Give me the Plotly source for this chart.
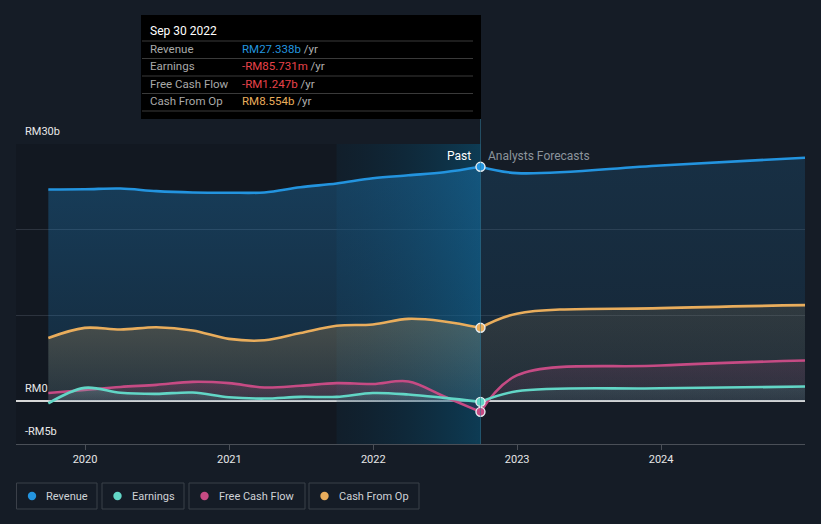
import plotly.graph_objects as go
from datetime import datetime

# ---------------- data ----------------
past_dates = ["2019-09-30", "2019-12-31", "2020-03-31", "2020-06-30", "2020-09-30",
              "2020-12-31", "2021-03-31", "2021-06-30", "2021-09-30", "2021-12-31",
              "2022-03-31", "2022-06-30", "2022-09-30"]
forecast_dates = ["2022-12-31", "2023-12-31", "2024-12-31"]

revenue_past = [24.70, 24.72, 24.80, 24.50, 24.35, 24.32, 24.35, 24.95, 25.40, 26.00, 26.35, 26.70, 27.338]
earnings_past = [-0.25, 1.55, 0.98, 0.85, 1.00, 0.45, 0.30, 0.50, 0.50, 0.95, 0.78, 0.38, -0.085731]
fcf_past = [0.95, 1.30, 1.65, 1.90, 2.25, 2.10, 1.60, 1.80, 2.10, 2.00, 2.30, 0.55, -1.247]
cfo_past = [7.37, 8.55, 8.35, 8.62, 8.25, 7.26, 7.10, 7.95, 8.80, 8.95, 9.60, 9.30, 8.554]

revenue_fc = [26.6, 27.5, 28.4]
earnings_fc = [1.15, 1.5, 1.7]
fcf_fc = [3.0, 4.15, 4.75]
cfo_fc = [10.2, 10.85, 11.2]

series_names = ["Revenue", "Earnings", "Free Cash Flow", "Cash From Op"]
series_colors = ["#2394df", "#62d6c6", "#c64b84", "#e9ad5c"]

y_tickvals = [-5, 0, 10, 20, 30]
y_ticktext = ["-RM5b", "RM0", "", "", "RM30b"]
y_range = [-5, 30]
x_range = ["2019-07-10", "2024-12-31"]

BG = "#151c26"
FONT = "Roboto"

# ---------------- layout helpers ----------------
W, H = 821, 524
ML, MR, MT, MB = 16, 16, 144, 80
PW, PH = W - ML - MR, H - MT - MB


def px(x):
    return (x - ML) / PW


def py(y):
    return (MT + PH - y) / PH


def rgba(hexc, a):
    h = hexc.lstrip("#")
    r, g, b = int(h[0:2], 16), int(h[2:4], 16), int(h[4:6], 16)
    return f"rgba({r},{g},{b},{a})"


fig = go.Figure()

last = datetime.strptime(past_dates[-1], "%Y-%m-%d")
band_start = last.replace(year=last.year - 1).strftime("%Y-%m-%d")

# highlight band for the last twelve months (horizontal gradient)
fig.add_trace(go.Scatter(
    x=[band_start, past_dates[-1], past_dates[-1], band_start, band_start],
    y=[y_range[0], y_range[0], y_range[1], y_range[1], y_range[0]],
    mode="none", fill="toself",
    fillgradient=dict(type="horizontal", colorscale=[[0, "rgba(2,40,62,0.20)"], [1, "rgba(6,88,126,0.52)"]]),
    hoverinfo="skip", showlegend=False))

past_sets = [revenue_past, earnings_past, fcf_past, cfo_past]
fc_sets = [revenue_fc, earnings_fc, fcf_fc, cfo_fc]
past_alpha = {"Revenue": (0.14, 0.30), "Earnings": (0.10, 0.22),
              "Free Cash Flow": (0.10, 0.22), "Cash From Op": (0.08, 0.24)}
fc_alpha = {"Revenue": (0.09, 0.16), "Earnings": (0.06, 0.12),
            "Free Cash Flow": (0.06, 0.14), "Cash From Op": (0.05, 0.12)}

# draw order: revenue, cash from op, free cash flow, earnings
order = [0, 3, 2, 1]
for i in order:
    name, col = series_names[i], series_colors[i]
    pv, fv = past_sets[i], fc_sets[i]
    a0, a1 = past_alpha[name]
    fig.add_trace(go.Scatter(
        x=past_dates, y=pv, mode="lines", name=name,
        line=dict(color=col, width=2.6, shape="spline", smoothing=1),
        fill="tozeroy",
        fillgradient=dict(type="vertical", start=0, stop=max(pv),
                          colorscale=[[0, rgba(col, a0)], [1, rgba(col, a1)]]),
        hoverinfo="skip", showlegend=False))
    fx = [past_dates[-1]] + forecast_dates
    fy = [pv[-1]] + fv
    b0, b1 = fc_alpha[name]
    fig.add_trace(go.Scatter(
        x=fx, y=fy, mode="lines", name=name + " forecast",
        line=dict(color=col, width=2.6, shape="spline", smoothing=1),
        fill="tozeroy",
        fillgradient=dict(type="vertical", start=0, stop=max(fy),
                          colorscale=[[0, rgba(col, b0)], [1, rgba(col, b1)]]),
        hoverinfo="skip", showlegend=False))

# markers at the last actual point
fig.add_trace(go.Scatter(
    x=[past_dates[-1]] * 4, y=[s[-1] for s in past_sets], mode="markers",
    marker=dict(color=series_colors, size=9, line=dict(color="#e8eef2", width=1.4)),
    hoverinfo="skip", showlegend=False))

# ---------------- shapes ----------------
shapes = []
shapes.append(dict(type="rect", xref="x", yref="paper", x0=x_range[0], x1=band_start,
                   y0=0, y1=1, fillcolor="rgba(0,0,0,0.12)", line=dict(width=0), layer="below"))

# hover line
shapes.append(dict(type="line", xref="x", yref="paper", x0=past_dates[-1], x1=past_dates[-1],
                   y0=0, y1=py(119), line=dict(color="rgba(50,120,150,0.55)", width=1)))

# tooltip box
shapes.append(dict(type="rect", xref="paper", yref="paper", x0=px(141), x1=px(481),
                   y0=py(119), y1=py(15), fillcolor="#000000", line=dict(width=0)))
for yy in [41, 58.5, 76, 93.5, 111]:
    shapes.append(dict(type="line", xref="paper", yref="paper", x0=px(142), x1=px(473),
                       y0=py(yy), y1=py(yy), line=dict(color="#3a3a3a", width=1)))

annotations = []


def fmt(v):
    sign = "-" if v < 0 else ""
    a = abs(v)
    if a >= 1:
        return f"{sign}RM{a:.3f}b"
    return f"{sign}RM{a * 1000:.3f}m"


annotations.append(dict(xref="paper", yref="paper", x=px(148), y=py(31), xanchor="left", yanchor="middle",
                        text=last.strftime("%b %d %Y"), showarrow=False,
                        font=dict(family=FONT, size=12, color="#ffffff")))
row_y = [48.5, 66, 84, 101]
for i in range(4):
    v = past_sets[i][-1]
    vc = "#e8434a" if v < 0 else series_colors[i]
    annotations.append(dict(xref="paper", yref="paper", x=px(148), y=py(row_y[i]), xanchor="left",
                            yanchor="middle", text=series_names[i], showarrow=False,
                            font=dict(family=FONT, size=11.5, color="#a9a9a9")))
    annotations.append(dict(xref="paper", yref="paper", x=px(240), y=py(row_y[i]), xanchor="left",
                            yanchor="middle",
                            text=f"<span style='color:{vc}'>{fmt(v)}</span><span style='color:#b0b0b0'> /yr</span>",
                            showarrow=False, font=dict(family=FONT, size=11.5, color="#b0b0b0")))

# Past / forecasts labels
annotations.append(dict(xref="x", yref="paper", x=past_dates[-1], y=py(156), xanchor="right", yanchor="middle",
                        xshift=-7, text="Past", showarrow=False,
                        font=dict(family=FONT, size=12, color="#ffffff")))
annotations.append(dict(xref="x", yref="paper", x=past_dates[-1], y=py(156), xanchor="left", yanchor="middle",
                        xshift=6, text="Analysts Forecasts", showarrow=False,
                        font=dict(family=FONT, size=12, color="#8c949c")))

# y labels
for v, t in zip(y_tickvals, y_ticktext):
    if t:
        annotations.append(dict(xref="paper", yref="y", x=px(23), y=v, xanchor="left", yanchor="middle",
                                yshift=12.5, text=t, showarrow=False,
                                font=dict(family=FONT, size=11, color="#e8e8e8")))

# legend boxes
boxes = [(16.5, 97), (102, 184), (189, 305), (309, 419)]
for (x0, x1), name, col in zip(boxes, series_names, series_colors):
    shapes.append(dict(type="rect", xref="paper", yref="paper", x0=px(x0), x1=px(x1),
                       y0=py(509), y1=py(483), line=dict(color="#3b4049", width=1),
                       fillcolor="rgba(0,0,0,0)"))
    cx = x0 + 15.5
    r = 4.2
    shapes.append(dict(type="circle", xref="paper", yref="paper", x0=px(cx - r), x1=px(cx + r),
                       y0=py(496 + r), y1=py(496 - r), fillcolor=col, line=dict(width=0)))
    annotations.append(dict(xref="paper", yref="paper", x=px(x0 + 27.5), y=py(496), xanchor="left",
                            yanchor="middle", text=name, showarrow=False,
                            font=dict(family=FONT, size=11, color="#cfd2d6")))

fig.update_layout(
    width=W, height=H,
    margin=dict(l=ML, r=MR, t=MT, b=MB),
    paper_bgcolor=BG, plot_bgcolor=BG,
    shapes=shapes, annotations=annotations,
    showlegend=False,
    xaxis=dict(type="date", range=x_range, showgrid=False, zeroline=False,
               showline=True, linecolor="#4a4f57", linewidth=1,
               ticks="outside", ticklen=5, tickcolor="#4a4f57",
               tickvals=["2020-01-01", "2021-01-01", "2022-01-01", "2023-01-01", "2024-01-01"],
               ticktext=["2020", "2021", "2022", "2023", "2024"],
               tickfont=dict(family=FONT, size=11, color="#e6e6e6"),
               fixedrange=True),
    yaxis=dict(range=y_range, tickvals=y_tickvals, showticklabels=False,
               showgrid=True, gridcolor="#2c333e", gridwidth=1,
               zeroline=True, zerolinecolor="#d8d8d8", zerolinewidth=1.5,
               fixedrange=True),
)

fig.write_html("out.html",
               config={"displayModeBar": False, "staticPlot": True},
               post_script="document.body.style.margin='0px';document.body.style.overflow='hidden';"
                           "document.documentElement.style.background='" + BG + "';")
